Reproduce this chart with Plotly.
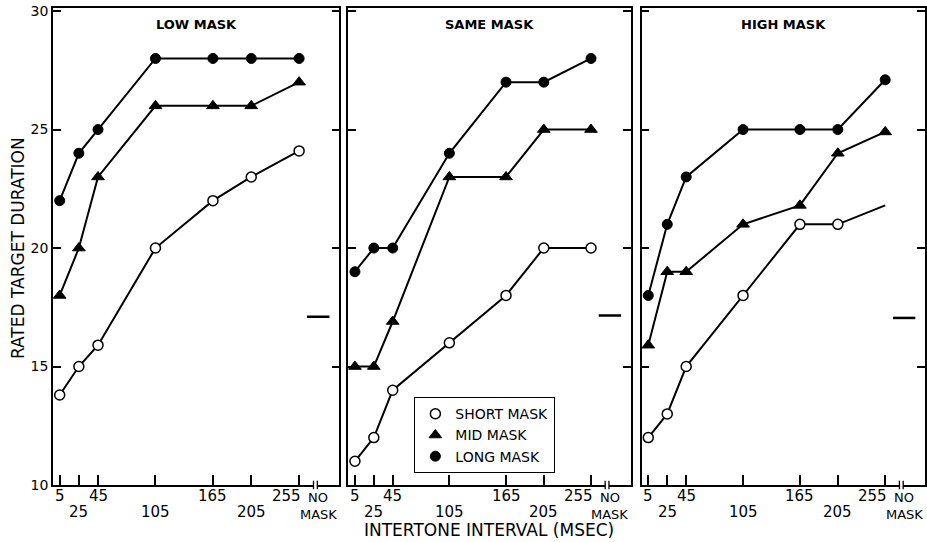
import plotly.graph_objects as go

# ---------------- data ----------------
intervals = [5, 25, 45, 105, 165, 205, 255]
interval_labels = ["5", "25", "45", "105", "165", "205", "255"]
no_mask_label = ["NO", "MASK"]
panel_titles = ["LOW MASK", "SAME MASK", "HIGH MASK"]
series_names = ["SHORT MASK", "MID MASK", "LONG MASK"]

low_short = [13.8, 15.0, 15.9, 20.0, 22.0, 23.0, 24.1]
low_mid = [18.0, 20.0, 23.0, 26.0, 26.0, 26.0, 27.0]
low_long = [22.0, 24.0, 25.0, 28.0, 28.0, 28.0, 28.0]

same_short = [11.0, 12.0, 14.0, 16.0, 18.0, 20.0, 20.0]
same_mid = [15.0, 15.0, 16.9, 23.0, 23.0, 25.0, 25.0]
same_long = [19.0, 20.0, 20.0, 24.0, 27.0, 27.0, 28.0]

high_short = [12.0, 13.0, 15.0, 18.0, 21.0, 21.0, 21.8]
high_mid = [15.9, 19.0, 19.0, 21.0, 21.8, 24.0, 24.9]
high_long = [18.0, 21.0, 23.0, 25.0, 25.0, 25.0, 27.1]

no_mask_values = [17.1, 17.15, 17.05]
y_ticks = [10, 15, 20, 25, 30]

# ---------------- layout constants ----------------
NO_MASK_X = 275
X_RANGE = [-2, 297]
Y_RANGE = [10, 30.13]
FONT = "DejaVu Sans"
W, H = 927, 542
ML, MR, MT, MB = 53, 0, 8, 57
PW = W - ML - MR
PH = H - MT - MB
panel_px = [(53, 340), (349, 632), (643, 927)]
domains = [[(a - ML) / PW, (b - ML) / PW] for a, b in panel_px]

panels = [
    (low_short, low_mid, low_long),
    (same_short, same_mid, same_long),
    (high_short, high_mid, high_long),
]

styles = [
    dict(symbol="circle", color="white", size=10, line=dict(color="black", width=1.5)),
    dict(symbol="triangle-up", color="black", size=11, line=dict(color="black", width=1)),
    dict(symbol="circle", color="black", size=10, line=dict(color="black", width=1)),
]

fig = go.Figure()

for p, series in enumerate(panels):
    xa = "x" if p == 0 else f"x{p + 1}"
    ya = "y" if p == 0 else f"y{p + 1}"
    for s, vals in enumerate(series):
        # the last point of the high-mask short series has no marker in the source
        n_marked = len(vals) - 1 if (p == 2 and s == 0) else len(vals)
        fig.add_trace(go.Scatter(
            x=intervals, y=vals, mode="lines",
            line=dict(color="black", width=2),
            showlegend=False, xaxis=xa, yaxis=ya, hoverinfo="skip",
        ))
        fig.add_trace(go.Scatter(
            x=intervals[:n_marked], y=vals[:n_marked], mode="markers",
            marker=styles[s], showlegend=False, xaxis=xa, yaxis=ya,
            hoverinfo="skip", cliponaxis=False,
        ))
    fig.add_trace(go.Scatter(
        x=[NO_MASK_X], y=[no_mask_values[p]], mode="markers",
        marker=dict(symbol="line-ew", size=16, line=dict(color="black", width=2.5)),
        showlegend=False, xaxis=xa, yaxis=ya, hoverinfo="skip",
    ))

for s, name in enumerate(series_names):
    fig.add_trace(go.Scatter(
        x=[None], y=[None], mode="markers", name=name,
        marker=styles[s], xaxis="x2", yaxis="y2",
    ))

layout = dict(
    width=W, height=H,
    margin=dict(l=ML, r=MR, t=MT, b=MB, pad=0),
    plot_bgcolor="white", paper_bgcolor="white",
    font=dict(family=FONT, color="black", size=14),
    legend=dict(
        x=(415 - ML) / PW, y=(485 - 397) / PH, xanchor="left", yanchor="top",
        bordercolor="black", borderwidth=1.2, bgcolor="white",
        font=dict(family=FONT, size=14, color="black"),
        traceorder="normal", tracegroupgap=0,
    ),
)

annotations = []
shapes = []
for p in range(3):
    xk = "xaxis" if p == 0 else f"xaxis{p + 1}"
    yk = "yaxis" if p == 0 else f"yaxis{p + 1}"
    xref = "x" if p == 0 else f"x{p + 1}"
    layout[xk] = dict(
        domain=domains[p], range=X_RANGE, anchor="y" if p == 0 else f"y{p + 1}",
        showline=True, linecolor="black", linewidth=1.6, mirror=True,
        ticks="inside", ticklen=10, tickwidth=1.5, tickcolor="black",
        tickvals=intervals, showticklabels=False, showgrid=False, zeroline=False,
    )
    layout[yk] = dict(
        domain=[0, 1], range=Y_RANGE, anchor=xref,
        showline=True, linecolor="black", linewidth=1.6, mirror="ticks",
        ticks="inside", ticklen=8, tickwidth=1.5, tickcolor="black",
        tickvals=y_ticks, showticklabels=(p == 0), showgrid=False, zeroline=False,
        tickfont=dict(family=FONT, size=14, color="black"),
    )
    # panel title
    annotations.append(dict(
        text=panel_titles[p], xref=f"{xref} domain", yref="paper",
        x=0.5, y=(485 - 25) / PH, xanchor="center", yanchor="middle",
        showarrow=False, font=dict(family=FONT, size=13, color="black", weight="bold"),
    ))
    # x tick labels in two staggered rows; the last one sits left of its tick
    last = len(intervals) - 1
    for i, (xv, lab) in enumerate(zip(intervals, interval_labels)):
        row_y = 496 if i % 2 == 0 else 512
        annotations.append(dict(
            text=lab, xref=xref, yref="paper",
            x=xv + (4 if i == last else 0), y=(485 - row_y) / PH,
            xanchor="right" if i == last else "center", yanchor="middle",
            showarrow=False, font=dict(family=FONT, size=15, color="black"),
        ))
    for r, lab in enumerate(no_mask_label):
        row_y = 498 if r == 0 else 514
        annotations.append(dict(
            text=lab, xref=xref, yref="paper", x=NO_MASK_X, y=(485 - row_y) / PH,
            xanchor="center", yanchor="middle", showarrow=False,
            font=dict(family=FONT, size=13, color="black"),
        ))
    # axis break mark: small gap with two short bars
    shapes.append(dict(
        type="rect", xref=xref, yref="paper",
        x0=NO_MASK_X - 5, x1=NO_MASK_X - 1, y0=-0.004, y1=0.004,
        line=dict(width=0), fillcolor="white", layer="above",
    ))
    for bx in (NO_MASK_X - 5, NO_MASK_X - 1):
        shapes.append(dict(
            type="line", xref=xref, yref="paper",
            x0=bx, x1=bx, y0=-0.009, y1=0.009,
            line=dict(color="black", width=1.3), layer="above",
        ))

annotations.append(dict(
    text="INTERTONE INTERVAL (MSEC)", xref="paper", yref="paper",
    x=(490 - ML) / PW, y=(485 - 530) / PH, xanchor="center", yanchor="middle",
    showarrow=False, font=dict(family=FONT, size=17, color="black"),
))
annotations.append(dict(
    text="RATED TARGET DURATION", xref="paper", yref="paper",
    x=(18 - ML) / PW, y=(485 - 248) / PH, xanchor="center", yanchor="middle",
    textangle=-90, showarrow=False, font=dict(family=FONT, size=17, color="black"),
))

layout["annotations"] = annotations
layout["shapes"] = shapes
fig.update_layout(**layout)
fig.write_html("out.html")
